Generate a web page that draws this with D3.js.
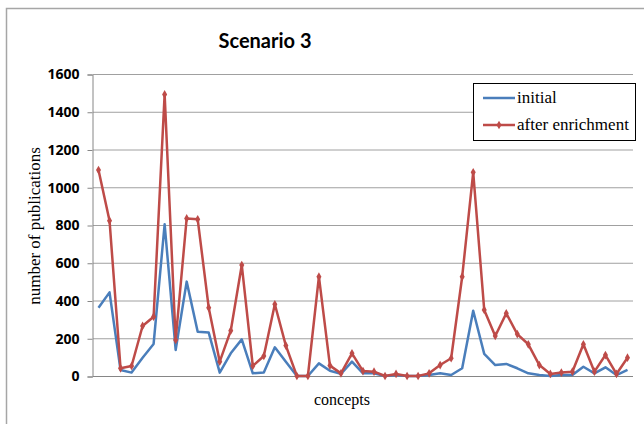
<!DOCTYPE html>
<html>
<head>
    <style>
        body { margin: 0; background: #fff; }
        .title { font: bold 20px Lato, "Open Sans", sans-serif; text-anchor: middle; }
        .axis-label { font-family: "Liberation Serif", serif; font-size: 16px; text-anchor: middle; }
        .y-title { font-size: 17px; }
        .legend text { font-family: "Liberation Serif", serif; font-size: 17px; }
    </style>
    <script src="https://d3js.org/d3.v7.min.js"></script>
</head>
<body>
    <svg width="644" height="424"></svg>
    <script>
        // 49 concepts, no labels on the x axis
        var concepts = d3.range(1, 50);

        var initial = [362, 443, 32, 18, 97, 170, 804, 138, 500, 235,
                       230, 18, 120, 194, 14, 19, 152, 76, 0, 0,
                       67, 28, 11, 76, 14, 14, 0, 5, 0, 0,
                       5, 14, 5, 41, 346, 117, 58, 64, 41, 14,
                       5, 0, 5, 5, 49, 14, 46, 5, 32];

        var afterEnrichment = [1091, 823, 41, 53, 265, 314, 1492, 191, 835, 830,
                               362, 76, 240, 588, 53, 106, 380, 161, 0, 0,
                               526, 55, 14, 120, 26, 23, 0, 11, 0, 0,
                               14, 58, 94, 526, 1079, 350, 212, 332, 222, 168,
                               58, 11, 18, 23, 168, 23, 111, 11, 97];

        var yTicks = [0, 200, 400, 600, 800, 1000, 1200, 1400, 1600];

        var svg = d3.select("svg");

        var plotLeft = 93, plotRight = 633, plotTop = 74, plotBottom = 376;

        // chart frame (only left/top edges fall inside the picture)
        svg.append("rect")
           .attr("x", 6.5).attr("y", 8.5)
           .attr("width", 700).attr("height", 500)
           .attr("fill", "none")
           .attr("stroke", "#a6a6a6")
           .attr("stroke-width", 1.5);

        var x = d3.scalePoint()
                  .domain(concepts)
                  .range([plotLeft, plotRight])
                  .padding(0.5);

        var y = d3.scaleLinear()
                  .domain([0, 1600])
                  .range([plotBottom, plotTop]);

        // gridlines
        svg.append("g")
           .selectAll("line")
           .data(yTicks.filter(function(d) { return d > 0; }))
           .enter().append("line")
           .attr("x1", plotLeft).attr("x2", plotRight)
           .attr("y1", function(d) { return y(d) + 0.5; })
           .attr("y2", function(d) { return y(d) + 0.5; })
           .attr("stroke", "#a0a0a0")
           .attr("stroke-width", 1);

        // y axis
        var yAxis = svg.append("g")
           .attr("transform", "translate(" + (plotLeft - 0.5) + ",0.5)")
           .call(d3.axisLeft(y).tickValues(yTicks).tickSize(5).tickPadding(8).tickFormat(d3.format("d")));
        yAxis.select(".domain").attr("stroke", "#868686");
        yAxis.selectAll(".tick line").attr("stroke", "#868686");
        yAxis.selectAll(".tick text")
             .style("font-family", "'Open Sans', sans-serif")
             .style("font-weight", "bold")
             .style("font-size", "14px")
             .attr("fill", "#000");

        // x axis baseline
        svg.append("line")
           .attr("x1", plotLeft).attr("x2", plotRight)
           .attr("y1", plotBottom + 0.5).attr("y2", plotBottom + 0.5)
           .attr("stroke", "#868686");

        var line = d3.line()
                     .x(function(d, i) { return x(concepts[i]); })
                     .y(function(d) { return y(d); });

        svg.append("path")
           .datum(initial)
           .attr("d", line)
           .attr("fill", "none")
           .attr("stroke", "#4a7ebb")
           .attr("stroke-width", 2.5)
           .attr("stroke-linejoin", "round");

        svg.append("path")
           .datum(afterEnrichment)
           .attr("d", line)
           .attr("fill", "none")
           .attr("stroke", "#be4b48")
           .attr("stroke-width", 2.5)
           .attr("stroke-linejoin", "round");

        var marker = d3.symbol().type(d3.symbolDiamond).size(22);

        svg.append("g")
           .selectAll("path")
           .data(afterEnrichment)
           .enter().append("path")
           .attr("d", marker)
           .attr("transform", function(d, i) { return "translate(" + x(concepts[i]) + "," + y(d) + ")"; })
           .attr("fill", "#be4b48");

        // title
        svg.append("text")
           .attr("class", "title")
           .attr("x", 265).attr("y", 48)
           .text("Scenario 3");

        // axis titles
        svg.append("text")
           .attr("class", "axis-label y-title")
           .attr("transform", "translate(40,226) rotate(-90)")
           .text("number of publications");

        svg.append("text")
           .attr("class", "axis-label")
           .attr("x", 342).attr("y", 405)
           .text("concepts");

        // legend
        var legend = svg.append("g").attr("class", "legend");
        legend.append("rect")
              .attr("x", 473.5).attr("y", 83.5)
              .attr("width", 162).attr("height", 57)
              .attr("fill", "#fff")
              .attr("stroke", "#000")
              .attr("stroke-width", 1);

        var items = [
            { name: "initial", color: "#4a7ebb", marker: false },
            { name: "after enrichment", color: "#be4b48", marker: true }
        ];

        items.forEach(function(it, i) {
            var cy = 98 + i * 27;
            legend.append("line")
                  .attr("x1", 483).attr("x2", 515)
                  .attr("y1", cy).attr("y2", cy)
                  .attr("stroke", it.color)
                  .attr("stroke-width", 2.5);
            if (it.marker) {
                legend.append("path")
                      .attr("d", marker)
                      .attr("transform", "translate(499," + cy + ")")
                      .attr("fill", it.color);
            }
            legend.append("text")
                  .attr("x", 517).attr("y", cy + 5)
                  .text(it.name);
        });
    </script>
</body>
</html>
